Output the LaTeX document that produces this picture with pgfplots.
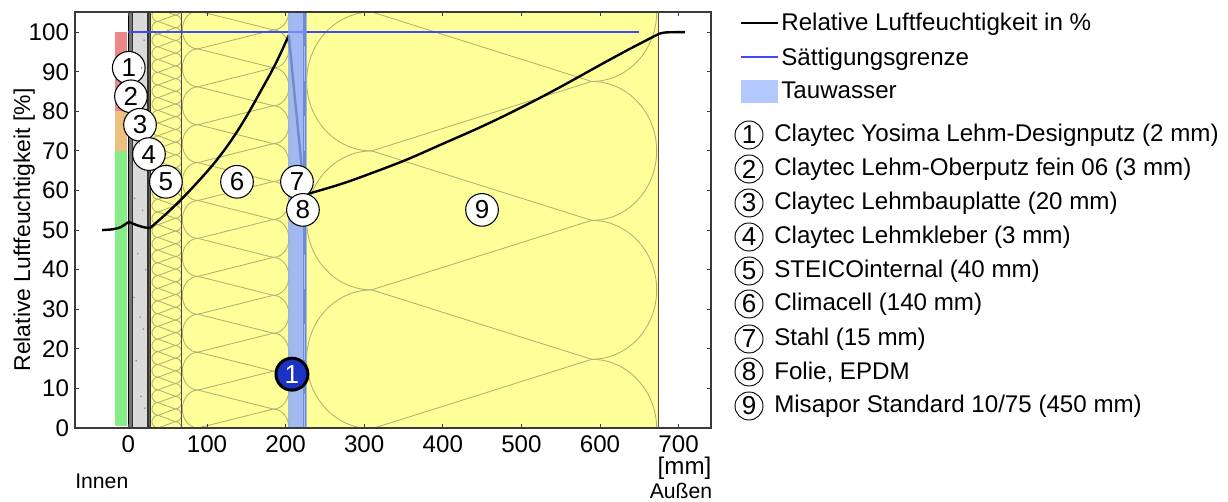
\documentclass[border=0pt]{standalone}
\usepackage{fontspec}
\setmainfont{Liberation Sans}
\usepackage{pgfplots}
\pgfplotsset{compat=1.18}
\definecolor{layery}{HTML}{FFFF99}
\definecolor{wave}{HTML}{B4B074}
\definecolor{board}{HTML}{DADADA}
\definecolor{axisc}{HTML}{3A3A3A}
\definecolor{tau}{HTML}{92ACF2}
\definecolor{legtau}{HTML}{A6BEFF}
\definecolor{satur}{HTML}{3F4BEF}
\definecolor{condens}{HTML}{1A33C4}
\definecolor{sred}{HTML}{EE8888}
\definecolor{sorange}{HTML}{EDC080}
\definecolor{sgreen}{HTML}{86EC86}
\definecolor{stripe}{HTML}{6E8BCB}
\definecolor{dash}{HTML}{A9BFF5}
\newcommand\ftext{\fontsize{18.1pt}{21pt}\selectfont}
\newcommand\fsmall{\fontsize{15.9pt}{19pt}\selectfont}
\newcommand\fnum{\fontsize{19.5pt}{22pt}\selectfont}
\newcommand\wavew{.8pt}
% rectangle through the axis: xlo xhi ylo yhi colour
\newcommand\rect[5]{\addplot[fill=#5,draw=none,forget plot] coordinates {(#1,#3)(#1,#4)(#2,#4)(#2,#3)} --cycle;}
% insulation squiggle: xlo xhi xleft xright rx(pt) ry(pt) pitch offset kmax
\newcommand\insul[9]{%
\begin{scope}
\clip (axis cs:#1,0) rectangle (axis cs:#2,105.2);
\pgfplotsinvokeforeach{0,...,#9}{
\draw[wave,line width=\wavew] (axis cs:#3,{##1*#7+#8}) arc[start angle=270,end angle=90,x radius=#5pt,y radius=#6pt];
\draw[wave,line width=\wavew] (axis cs:#4,{(##1-.5)*#7+#8}) arc[start angle=-90,end angle=90,x radius=#5pt,y radius=#6pt];
\draw[wave,line width=\wavew] (axis cs:#3,{##1*#7+#8}) -- (axis cs:#4,{(##1+.5)*#7+#8});
\draw[wave,line width=\wavew] (axis cs:#3,{##1*#7+#8}) -- (axis cs:#4,{(##1-.5)*#7+#8});
}
\end{scope}}
\tikzset{num/.style={circle,draw=black,fill=white,line width=.8pt,minimum size=24.5pt,inner sep=0pt,font=\fnum},
 lnum/.style={circle,draw=black,line width=.7pt,minimum size=21pt,inner sep=0pt,font=\fnum},
 ltxt/.style={anchor=west,inner sep=0pt,font=\ftext}}
\begin{document}
\begin{tikzpicture}
\useasboundingbox (0,0) rectangle (921pt,376.5pt);
\begin{axis}[
 at={(56.25pt,55.5pt)},anchor=south west,
 scale only axis,width=477pt,height=312pt,
 xmin=-67.9,xmax=741.2,ymin=0,ymax=105.1,
 xtick={0,100,...,700},ytick={0,10,...,100},
 tick pos=both,tick align=inside,major tick length=3pt,
 tick style={axisc,line width=.7pt},
 axis line style={axisc,line width=1.1pt},
 axis on top,clip=true,
 /pgf/number format/assume math mode=true,
 tick label style={font=\ftext,text=black},
 xticklabel style={yshift=-2pt},
 yticklabel style={xshift=-1pt},
 ylabel={Relative Luftfeuchtigkeit [\%]},
 ylabel style={font=\fontsize{17.2pt}{20pt}\selectfont,at={(axis description cs:0,.476)},anchor=south,yshift=26.5pt},
 legend style={draw=none,fill=none,at={(1.045,1.002)},anchor=north west,font=\ftext,
   row sep=8.3pt,inner sep=0pt,outer sep=0pt,legend cell align=left,
   nodes={inner sep=1.5pt}},
 legend image code/.code={\draw[#1] (0pt,0pt) -- (28pt,0pt);},
]
% traffic light strip
\rect{-17}{-1.4}{0.5}{70}{sgreen}
\rect{-17}{-1.4}{70}{80}{sorange}
\rect{-17}{-1.4}{80}{100}{sred}
% layers
\rect{0}{5}{0}{105.2}{black!55}
\rect{5}{25}{0}{105.2}{board}
\rect{25}{28}{0}{105.2}{black!60}
\rect{28}{68}{0}{105.2}{layery}
\rect{68}{208}{0}{105.2}{layery}
\rect{208}{226.5}{0}{105.2}{white}
\rect{226.5}{674.5}{0}{105.2}{layery}
\def\wavew{.75pt}
\insul{28}{68}{38}{59.5}{4.7}{4.76}{3.21}{0}{33}
\def\wavew{.8pt}
\insul{68}{208}{88.5}{184.4}{11.7}{14.2}{9.578}{0}{11}
\def\wavew{.65pt}
\insul{226.5}{674.5}{309.5}{589.4}{48.75}{52.1}{35.1}{-0.2}{3}
% layer edges
\addplot[black,line width=1.1pt,forget plot] coordinates {(0,0)(0,105.2)};
\addplot[black!80,line width=1.1pt,forget plot] coordinates {(5,0)(5,105.2)};
\addplot[black!80,line width=1.1pt,forget plot] coordinates {(25,0)(25,105.2)};
\addplot[black!80,line width=1.1pt,forget plot] coordinates {(28,0)(28,105.2)};
\addplot[black!70,line width=.9pt,forget plot] coordinates {(67.8,0)(67.8,105.2)};
\addplot[black!70,line width=.9pt,forget plot] coordinates {(674.8,0)(674.8,105.2)};
% speckles in the board
\addplot[only marks,mark=*,mark size=.35pt,black!45,forget plot] coordinates {(20,98)(17,91)(9,84)(14,72)(21,65)(8,58)(18,55)(12,44)(22,40)(7,33)(15,28)(19,25)(10,17)(16,8)(21,5)};
% curves
\addplot[black,line width=1.8pt,smooth,tension=.5,forget plot] coordinates {(-33.5,50)(-20,50.2)(-10,50.7)(-3,51.6)(0,52)};
\addplot[black,line width=1.8pt,smooth,tension=.5,forget plot] coordinates {(0,52)(4,51.8)(10,51.3)(20,50.7)(27.5,50.5)};
\addplot[black,line width=1.8pt,smooth,tension=.6] coordinates {(27.5,50.5)(47.5,54)(67.5,57.8)(87.5,62)(107.5,66.5)(127.5,71.7)(147.5,77.8)(167.5,84.8)(187.5,92.1)(204,99.2)};
\addlegendentry{Relative Luftfeuchtigkeit in \%}
\addplot[satur,line width=1.5pt] coordinates {(0,100)(650,100)};
\addlegendentry{Sättigungsgrenze}
\addplot[black,line width=1.8pt,smooth,tension=.6,forget plot] coordinates {(224,58.9)(270,61.6)(309.5,64.4)(354,67.8)(400,71.8)(450,76.2)(500,81)(550,86.2)(600,91.7)(640,96)(675.3,99.6)};
\addplot[black,line width=1.8pt,smooth,tension=.6,forget plot] coordinates {(675.3,99.6)(684.8,99.95)(708,100)};
% Tauwasser
\addplot[fill=tau,fill opacity=.85,draw=none,
  legend image code/.code={\fill[legtau] (0pt,-8.5pt) rectangle (28pt,8.5pt);}] coordinates {(203.5,0)(203.5,105.2)(227,105.2)(227,0)} --cycle;
\addlegendentry{Tauwasser}
\rect{222}{226.5}{0}{105.2}{stripe}
\rect{222.8}{225}{87.7}{96.4}{dash}
\rect{222.8}{225}{70}{78.8}{dash}
\rect{222.8}{225}{52.6}{61.3}{dash}
\rect{222.8}{225}{35.1}{43.7}{dash}
\rect{222.8}{225}{17.2}{26.3}{dash}
\rect{222.8}{225}{0}{8.7}{dash}
\addplot[stripe,line width=1.8pt,forget plot] coordinates {(204,99.2)(224,58.9)};
\addplot[satur!70!white,line width=1.5pt,forget plot] coordinates {(203.5,100)(227,100)};
% numbered markers
\node[num] at (axis cs:0.5,91) {1};
\node[num] at (axis cs:3.3,83.8) {2};
\node[num] at (axis cs:14.8,76.6) {3};
\node[num] at (axis cs:26.2,69.2) {4};
\node[num] at (axis cs:47.8,62.2) {5};
\node[num] at (axis cs:138.2,62.2) {6};
\node[num] at (axis cs:214.5,62.2) {7};
\node[num] at (axis cs:222.1,55.1) {8};
\node[num] at (axis cs:449.9,55.1) {9};
\node[num,fill=condens,text=white,line width=2.2pt,minimum size=24pt] at (axis cs:208.1,13.6) {1};
\end{axis}
\begin{scope}[x=.75pt,y=-.75pt,shift={(0,376.5pt)}]
\node[anchor=west,inner sep=0pt,font=\fsmall] at (75,481) {Innen};
\node[inner sep=0pt,font=\ftext] at (684.5,468) {[mm]};
\node[inner sep=0pt,font=\fsmall] at (681,491) {Außen};
\foreach \n/\yy/\t in {1/135/{Claytec Yosima Lehm-Designputz (2 mm)},2/169/{Claytec Lehm-Oberputz fein 06 (3 mm)},3/203/{Claytec Lehmbauplatte (20 mm)},4/237/{Claytec Lehmkleber (3 mm)},5/271/{STEICOinternal (40 mm)},6/304/{Climacell (140 mm)},7/339/{Stahl (15 mm)},8/372/{Folie, EPDM},9/406/{Misapor Standard 10/75 (450 mm)}}{
 \node[lnum] at (749,\yy) {\n};
 \node[ltxt] at (774,\yy) {\t};
}
\end{scope}
\end{tikzpicture}
\end{document}
